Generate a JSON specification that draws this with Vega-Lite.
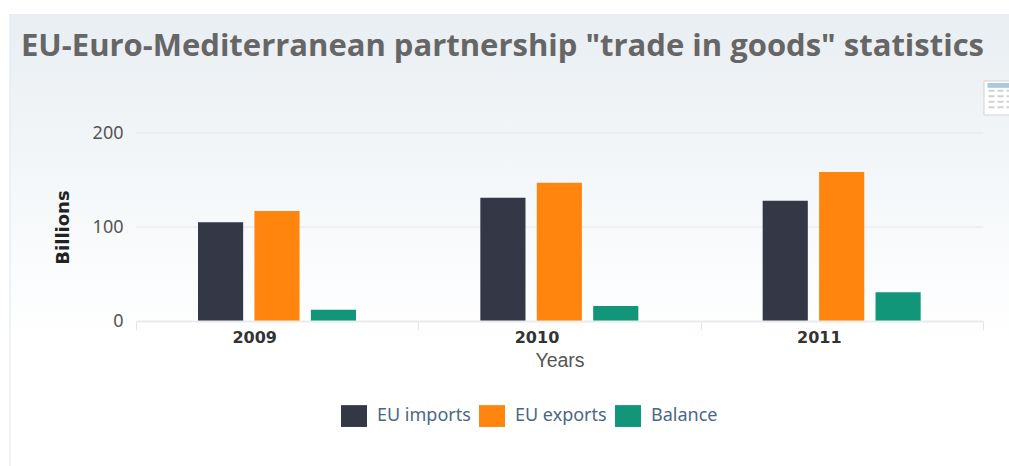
{
"$schema":"https://vega.github.io/schema/vega-lite/v6.json",
"width":847,"height":188,
"autosize":{"type":"none"},
"padding":{"left":136,"top":133,"right":26,"bottom":145},
"background":"white",
"config":{"view":{"stroke":null}},
"title":{"text":"EU-Euro-Mediterranean partnership \"trade in goods\" statistics","anchor":"start","frame":"group","dx":-115,"offset":-49,"font":"Open Sans","fontSize":31,"fontWeight":"bold","color":"#666666"},
"layer":[
{"data":{"values":[{"px":0,"px2":1,"py":0,"py2":1}]},
 "mark":{"type":"rect","fill":{"x1":0,"y1":0,"x2":0,"y2":1,"gradient":"linear","stops":[{"offset":0,"color":"#e9eef2"},{"offset":0.4,"color":"#f5f8fa"},{"offset":0.72,"color":"#ffffff"},{"offset":1,"color":"#ffffff"}]}},
 "encoding":{
  "x":{"field":"px","type":"quantitative","axis":null,"scale":{"domain":[0,1],"range":[-126,873]}},
  "x2":{"field":"px2"},
  "y":{"field":"py","type":"quantitative","axis":null,"scale":{"domain":[0,1],"range":[-119,333]}},
  "y2":{"field":"py2"}}},
{"data":{"values":[{"px":0,"py":0,"py2":1}]},
 "mark":{"type":"rule","stroke":"#dbe7f1","strokeWidth":1},
 "encoding":{
  "x":{"field":"px","type":"quantitative","axis":null,"scale":{"domain":[0,1],"range":[-126,873]}},
  "y":{"field":"py","type":"quantitative","axis":null,"scale":{"domain":[0,1],"range":[-119,333]}},
  "y2":{"field":"py2"}}},
{"data":{"values":[{"px":0,"px2":1.2,"py":0,"py2":1}]},
 "mark":{"type":"rect","fill":"#ffffff","stroke":"#cfd2d6","strokeWidth":1},
 "encoding":{
  "x":{"field":"px","type":"quantitative","axis":null,"scale":{"domain":[0,1],"range":[848,873]}},
  "x2":{"field":"px2"},
  "y":{"field":"py","type":"quantitative","axis":null,"scale":{"domain":[0,1],"range":[-52,-18]}},
  "y2":{"field":"py2"}}},
{"data":{"values":[{"px":0.14,"px2":1,"py":0.06,"py2":0.2}]},
 "mark":{"type":"rect","fill":"#a9c8de"},
 "encoding":{
  "x":{"field":"px","type":"quantitative","axis":null,"scale":{"domain":[0,1],"range":[848,873]}},
  "x2":{"field":"px2"},
  "y":{"field":"py","type":"quantitative","axis":null,"scale":{"domain":[0,1],"range":[-52,-18]}},
  "y2":{"field":"py2"}}},
{"data":{"values":[{"px":0.18,"px2":1,"py":0.29},{"px":0.18,"px2":1,"py":0.45},{"px":0.18,"px2":1,"py":0.61},{"px":0.18,"px2":1,"py":0.77}]},
 "mark":{"type":"rule","stroke":"#d2d2d2","strokeWidth":2,"strokeDash":[6,3]},
 "encoding":{
  "x":{"field":"px","type":"quantitative","axis":null,"scale":{"domain":[0,1],"range":[848,873]}},
  "x2":{"field":"px2"},
  "y":{"field":"py","type":"quantitative","axis":null,"scale":{"domain":[0,1],"range":[-52,-18]}}}},
{"data":{"values":[{"tick":100},{"tick":200}]},
 "mark":{"type":"rule","stroke":"#e4e7eb","strokeWidth":1},
 "encoding":{"y":{"field":"tick","type":"quantitative","axis":null,"scale":{"domain":[0,200],"nice":false}}}},
{"data":{"values":[
 {"year":"2009","series":"EU imports","value":105},
 {"year":"2009","series":"EU exports","value":117},
 {"year":"2009","series":"Balance","value":12},
 {"year":"2010","series":"EU imports","value":131},
 {"year":"2010","series":"EU exports","value":147},
 {"year":"2010","series":"Balance","value":16},
 {"year":"2011","series":"EU imports","value":128},
 {"year":"2011","series":"EU exports","value":158.5},
 {"year":"2011","series":"Balance","value":30.5}]},
 "mark":{"type":"bar","cornerRadius":0},
 "encoding":{
  "x":{"field":"year","type":"nominal","scale":{"paddingInner":0,"paddingOuter":0},
   "axis":{"zindex":1,"title":"Years","labelAngle":0,"labelOffset":-23,"labelFont":"DejaVu Sans","labelFontSize":16,"labelFontWeight":"bold","labelColor":"#333333","labelPadding":-1,"tickBand":"extent","tickSize":9,"tickColor":"#e3e7eb","domainColor":"#e8ebee","domainWidth":2,"grid":false,"titleFont":"Liberation Sans","titleFontSize":19.5,"titleFontWeight":"normal","titleColor":"#555555","titlePadding":6}},
  "xOffset":{"field":"series","type":"nominal","sort":["EU imports","EU exports","Balance"],"scale":{"paddingInner":0.2,"paddingOuter":0,"range":[62,220]}},
  "y":{"field":"value","type":"quantitative","scale":{"domain":[0,200],"nice":false},
   "axis":{"zindex":1,"grid":false,"title":"Billions","values":[0,100,200],"ticks":false,"domain":false,"labelFont":"Noto Sans","labelFontSize":18,"labelColor":"#555555","labelPadding":13,"titleFont":"DejaVu Sans","titleFontSize":18,"titleFontWeight":"bold","titleColor":"#222222","titlePadding":20}},
  "color":{"field":"series","type":"nominal","sort":["EU imports","EU exports","Balance"],
   "scale":{"domain":["EU imports","EU exports","Balance"],"range":["#343746","#ff850f","#129679"]},
   "legend":{"title":null,"orient":"none","legendX":205,"legendY":270,"direction":"horizontal","symbolType":"M-1,-0.84H1V0.84H-1Z","symbolSize":676,"symbolOpacity":1,"symbolStrokeWidth":0,"labelFont":"Noto Sans","labelFontSize":18,"labelColor":"#4a6785","labelOffset":10,"columnPadding":8}}}}
],
"resolve":{"scale":{"x":"independent","y":"independent"},"axis":{"x":"independent","y":"independent"}}
}
